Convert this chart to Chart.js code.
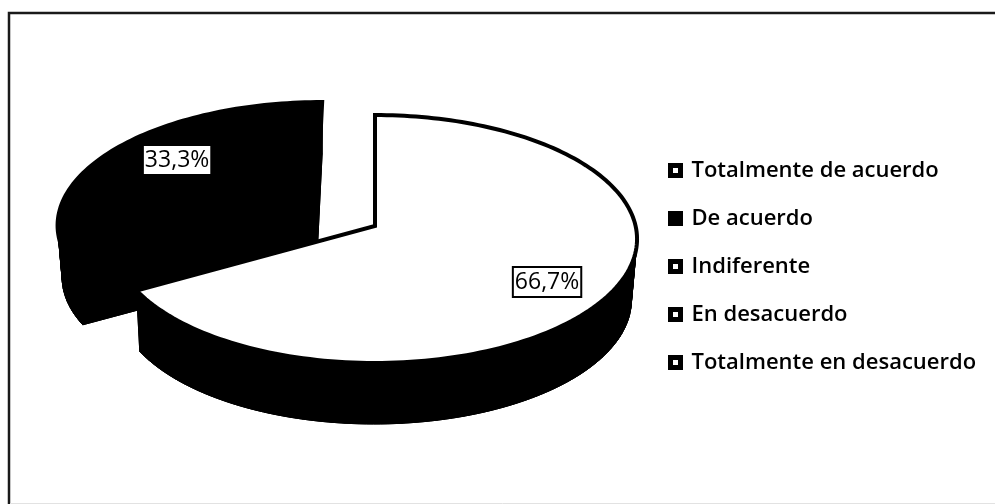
<!DOCTYPE html>
<html><head><meta charset="utf-8">
<style>html,body{margin:0;padding:0;background:#fff}canvas{display:block}</style>
<script src="https://cdn.jsdelivr.net/npm/chart.js@4/dist/chart.umd.min.js"></script>
</head><body>
<div style="width:995px;height:504px"><canvas id="c" width="995" height="504"></canvas></div>
<script>
const categories = ["Totalmente de acuerdo","De acuerdo","Indiferente","En desacuerdo","Totalmente en desacuerdo"];
const percentages = [66.7,33.3,0,0,0];
const sliceColors = ["#ffffff","#000000","#ffffff","#ffffff","#ffffff"];
const explodeBySlice = [0,0.262,0,0,0];
const depthBySlice = [61,52,61,61,61];
const labelSpots = [[0.63,0.436],[-0.805,-0.571],null,null,null];

const view = {ax:375,ay:226,a:260.6,b:122.6,k:0.105,floorAx:374,floorA:256};
function project(u,v,depth){
  const w = 1 - view.k*v;
  if(depth) return [view.floorAx + view.floorA*u/w, view.ay + depth + view.b*v/w];
  return [view.ax + view.a*u/w, view.ay + view.b*v/w];
}
function slicePoints(arc,explode){
  const mid=(arc.startAngle+arc.endAngle)/2;
  const u0=explode*Math.cos(mid), v0=explode*Math.sin(mid);
  const n=Math.max(8,Math.round((arc.endAngle-arc.startAngle)*40));
  const rim=[];
  for(let i=0;i<=n;i++){
    const t=arc.startAngle+(arc.endAngle-arc.startAngle)*i/n;
    rim.push([u0+Math.cos(t),v0+Math.sin(t)]);
  }
  return {u0,v0,rim};
}
function poly(ctx,pts){
  ctx.beginPath();
  pts.forEach((p,i)=>i?ctx.lineTo(p[0],p[1]):ctx.moveTo(p[0],p[1]));
  ctx.closePath();
}
function drawSlice(ctx,arc,explode,color,depth){
  const s=slicePoints(arc,explode);
  const loop=[[s.u0,s.v0],...s.rim];
  ctx.fillStyle="#000";ctx.strokeStyle="#000";ctx.lineWidth=1;ctx.lineJoin="round";
  for(let i=0;i<loop.length;i++){
    const p=loop[i],q=loop[(i+1)%loop.length];
    poly(ctx,[project(p[0],p[1]),project(q[0],q[1]),project(q[0],q[1],depth),project(p[0],p[1],depth)]);
    ctx.fill();ctx.stroke();
  }
  poly(ctx,loop.map(p=>project(p[0],p[1],depth)));ctx.fill();ctx.stroke();
  poly(ctx,loop.map(p=>project(p[0],p[1])));
  ctx.fillStyle=color;ctx.fill();
  ctx.lineWidth=4;ctx.lineJoin="miter";ctx.stroke();
}
const pie3d={
  id:"pie3d",
  afterLayout(chart){
    const lg=chart.legend;
    lg.left=644.5;lg.right=lg.left+lg.width;
  },
  beforeDraw(chart){
    const ctx=chart.ctx;
    ctx.save();
    ctx.fillStyle="#fff";ctx.fillRect(0,0,995,504);
    ctx.strokeStyle="#1a1a1a";ctx.lineWidth=2.5;
    ctx.beginPath();ctx.moveTo(9,504);ctx.lineTo(9,13);ctx.lineTo(995,13);ctx.stroke();
    ctx.strokeStyle="#e2e2e2";ctx.lineWidth=1;
    ctx.beginPath();ctx.moveTo(10,503.5);ctx.lineTo(995,503.5);ctx.stroke();
    ctx.restore();
  },
  beforeDatasetDraw(chart){
    const ctx=chart.ctx,meta=chart.getDatasetMeta(0);
    ctx.save();
    const order=meta.data.map((a,i)=>i).filter(i=>percentages[i]>0).reverse();
    order.forEach(i=>drawSlice(ctx,meta.data[i],explodeBySlice[i],sliceColors[i],depthBySlice[i]));
    order.forEach(i=>{
      const [x,y]=project(labelSpots[i][0],labelSpots[i][1]);
      const txt=percentages[i].toFixed(1).replace(".",",")+"%";
      ctx.font='23px "Open Sans"';
      const tw=ctx.measureText(txt).width;
      ctx.fillStyle="#fff";ctx.strokeStyle="#000";ctx.lineWidth=2;
      ctx.beginPath();ctx.rect(x-tw/2-2,y-15,tw+4,30);ctx.fill();ctx.stroke();
      ctx.fillStyle="#000";ctx.textAlign="center";ctx.textBaseline="middle";
      ctx.fillText(txt,x,y);
    });
    ctx.restore();
    return false;
  }
};
new Chart(document.getElementById("c"),{
  type:"pie",
  data:{labels:categories,datasets:[{data:percentages,backgroundColor:sliceColors,borderColor:"#000000",borderWidth:5}]},
  plugins:[pie3d],
  options:{
    responsive:false,animation:false,
    layout:{padding:{top:29,bottom:0}},
    plugins:{
      tooltip:{enabled:false},
      legend:{position:"right",align:"center",
        labels:{boxWidth:10,boxHeight:10,padding:26,color:"#000",font:{family:'"Open Sans"',size:22,weight:"600"}}}
    }
  }
});
</script>
</body></html>
